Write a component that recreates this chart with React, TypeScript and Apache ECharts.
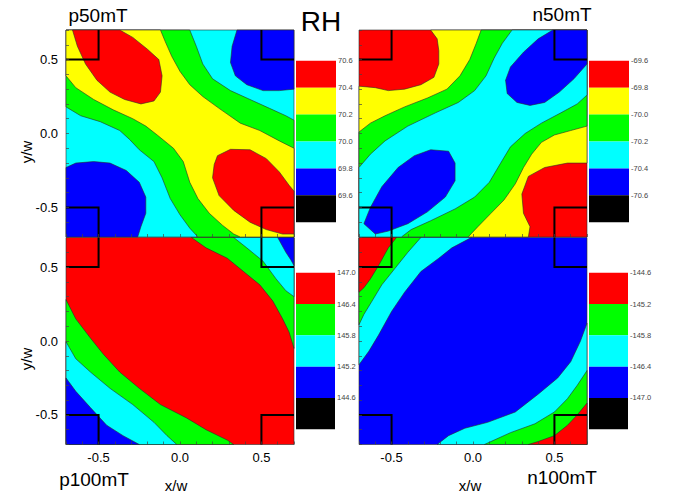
import React, { useEffect, useRef } from 'react';
import * as echarts from 'echarts';

type Pt = [number, number];

const RED = '#ff0000';
const YELLOW = '#ffff00';
const GREEN = '#00ff00';
const CYAN = '#00ffff';
const BLUE = '#0000ff';
const BLACK = '#000000';
const FONT = 'Liberation Sans, Arial, Helvetica, sans-serif';

// full extent of each map (x/w, y/w)
const EXT: Pt[] = [[-0.7, 0.7], [0.7, 0.7], [0.7, -0.7], [-0.7, -0.7]];

// ---- p50mT contour regions (data coords) ----
const p50Green: Pt[] = [[-0.7, 0.7], [0.06, 0.7], [0.10, 0.59], [0.14, 0.47], [0.20, 0.37], [0.31, 0.29], [0.43, 0.23], [0.55, 0.17], [0.65, 0.12], [0.7, 0.09], [0.7, -0.7], [0.11, -0.7], [0.06, -0.64], [0.0, -0.55], [-0.06, -0.44], [-0.11, -0.30], [-0.16, -0.19], [-0.25, -0.11], [-0.31, -0.04], [-0.37, 0.02], [-0.49, 0.08], [-0.61, 0.12], [-0.7, 0.18]];
const p50Yellow: Pt[] = [[-0.7, 0.7], [-0.12, 0.7], [-0.09, 0.62], [-0.05, 0.52], [0.0, 0.42], [0.06, 0.33], [0.14, 0.25], [0.24, 0.17], [0.37, 0.07], [0.49, 0.02], [0.61, -0.05], [0.7, -0.10], [0.7, -0.7], [0.37, -0.7], [0.33, -0.68], [0.26, -0.62], [0.18, -0.54], [0.11, -0.44], [0.06, -0.33], [0.02, -0.19], [-0.04, -0.10], [-0.14, -0.01], [-0.21, 0.05], [-0.29, 0.10], [-0.41, 0.16], [-0.53, 0.23], [-0.64, 0.31], [-0.7, 0.39]];
const p50RedA: Pt[] = [[-0.66, 0.7], [-0.63, 0.59], [-0.58, 0.47], [-0.51, 0.36], [-0.43, 0.28], [-0.34, 0.23], [-0.24, 0.20], [-0.16, 0.22], [-0.12, 0.28], [-0.11, 0.39], [-0.13, 0.50], [-0.20, 0.57], [-0.29, 0.65], [-0.37, 0.7]];
const p50RedB: Pt[] = [[0.7, -0.39], [0.67, -0.35], [0.61, -0.26], [0.53, -0.17], [0.43, -0.11], [0.31, -0.107], [0.23, -0.15], [0.21, -0.21], [0.20, -0.30], [0.24, -0.42], [0.33, -0.52], [0.43, -0.60], [0.53, -0.65], [0.63, -0.68], [0.7, -0.68]];
const p50BlueA: Pt[] = [[0.35, 0.7], [0.32, 0.59], [0.31, 0.48], [0.34, 0.39], [0.41, 0.33], [0.51, 0.29], [0.61, 0.29], [0.7, 0.30], [0.7, 0.7]];
const p50BlueB: Pt[] = [[-0.7, -0.23], [-0.64, -0.20], [-0.53, -0.19], [-0.43, -0.20], [-0.33, -0.25], [-0.25, -0.33], [-0.21, -0.43], [-0.21, -0.54], [-0.24, -0.63], [-0.26, -0.7], [-0.7, -0.7]];

// ---- n50mT ----
const n50Yellow: Pt[] = [[-0.26, 0.7], [0.7, 0.7], [0.7, -0.20], [0.58, -0.20], [0.44, -0.23], [0.34, -0.29], [0.30, -0.41], [0.31, -0.54], [0.35, -0.63], [0.34, -0.7], [-0.7, -0.7], [-0.7, 0.32], [-0.60, 0.31], [-0.52, 0.29], [-0.42, 0.30], [-0.32, 0.33], [-0.24, 0.38], [-0.21, 0.47], [-0.21, 0.56], [-0.22, 0.64]];
const n50Green: Pt[] = [[0.05, 0.7], [0.7, 0.7], [0.7, 0.05], [0.60, 0.02], [0.50, -0.01], [0.42, -0.06], [0.36, -0.14], [0.31, -0.23], [0.26, -0.34], [0.19, -0.45], [0.11, -0.54], [0.03, -0.63], [-0.03, -0.7], [-0.7, -0.7], [-0.7, 0.01], [-0.63, 0.07], [-0.54, 0.12], [-0.42, 0.18], [-0.28, 0.24], [-0.16, 0.30], [-0.08, 0.39], [-0.02, 0.50], [0.02, 0.61]];
const n50Cyan: Pt[] = [[0.24, 0.7], [0.7, 0.7], [0.7, 0.26], [0.64, 0.20], [0.54, 0.14], [0.42, 0.07], [0.32, 0.0], [0.23, -0.09], [0.17, -0.20], [0.10, -0.33], [0.01, -0.43], [-0.11, -0.51], [-0.26, -0.59], [-0.38, -0.65], [-0.44, -0.7], [-0.7, -0.7], [-0.7, -0.23], [-0.63, -0.14], [-0.54, -0.05], [-0.40, 0.05], [-0.23, 0.14], [-0.09, 0.21], [0.01, 0.29], [0.08, 0.39], [0.13, 0.51], [0.18, 0.61]];
const n50BlueA: Pt[] = [[0.49, 0.7], [0.40, 0.64], [0.31, 0.55], [0.23, 0.45], [0.20, 0.36], [0.21, 0.27], [0.27, 0.21], [0.35, 0.19], [0.44, 0.21], [0.53, 0.28], [0.62, 0.37], [0.7, 0.47], [0.7, 0.7]];
const n50BlueB: Pt[] = [[-0.67, -0.61], [-0.63, -0.50], [-0.56, -0.36], [-0.46, -0.23], [-0.36, -0.15], [-0.26, -0.11], [-0.15, -0.12], [-0.11, -0.20], [-0.11, -0.32], [-0.17, -0.43], [-0.28, -0.53], [-0.40, -0.61], [-0.52, -0.66], [-0.60, -0.68]];

// ---- p100mT ----
const p100GreenA: Pt[] = [[0.07, 0.7], [0.7, 0.7], [0.7, -0.05], [0.67, 0.06], [0.63, 0.15], [0.57, 0.27], [0.49, 0.38], [0.39, 0.47], [0.29, 0.56], [0.16, 0.63]];
const p100CyanA: Pt[] = [[0.33, 0.7], [0.7, 0.7], [0.7, 0.30], [0.65, 0.34], [0.59, 0.42], [0.51, 0.54], [0.41, 0.63]];
const p100BlueA: Pt[] = [[0.60, 0.7], [0.7, 0.7], [0.7, 0.51], [0.68, 0.55], [0.65, 0.60]];
const p100GreenB: Pt[] = [[-0.7, 0.28], [-0.64, 0.15], [-0.55, 0.02], [-0.47, -0.09], [-0.37, -0.21], [-0.25, -0.32], [-0.12, -0.43], [0.04, -0.52], [0.16, -0.60], [0.29, -0.67], [0.33, -0.7], [-0.7, -0.7]];
const p100CyanB: Pt[] = [[-0.7, -0.005], [-0.64, -0.12], [-0.55, -0.21], [-0.43, -0.32], [-0.29, -0.43], [-0.16, -0.55], [-0.08, -0.64], [-0.02, -0.7], [-0.7, -0.7]];
const p100BlueB: Pt[] = [[-0.7, -0.25], [-0.64, -0.34], [-0.55, -0.45], [-0.45, -0.57], [-0.35, -0.64], [-0.25, -0.7], [-0.7, -0.7]];

// ---- n100mT ----
const n100CyanA: Pt[] = [[-0.7, 0.7], [-0.01, 0.7], [-0.13, 0.63], [-0.21, 0.56], [-0.32, 0.47], [-0.42, 0.33], [-0.50, 0.20], [-0.58, 0.04], [-0.64, -0.07], [-0.7, -0.16]];
const n100GreenA: Pt[] = [[-0.7, 0.7], [-0.32, 0.7], [-0.40, 0.60], [-0.48, 0.49], [-0.56, 0.38], [-0.62, 0.27], [-0.67, 0.18], [-0.7, 0.11]];
const n100RedA: Pt[] = [[-0.7, 0.7], [-0.47, 0.7], [-0.52, 0.63], [-0.58, 0.51], [-0.63, 0.42], [-0.67, 0.36], [-0.7, 0.33]];
const n100CyanB: Pt[] = [[0.7, -0.7], [0.7, 0.12], [0.66, 0.0], [0.60, -0.14], [0.52, -0.25], [0.40, -0.36], [0.26, -0.48], [0.09, -0.55], [-0.05, -0.59], [-0.15, -0.64], [-0.22, -0.7]];
const n100GreenB: Pt[] = [[0.7, -0.7], [0.7, -0.20], [0.64, -0.30], [0.58, -0.39], [0.50, -0.48], [0.38, -0.56], [0.23, -0.62], [0.13, -0.67], [0.07, -0.7]];
const n100RedB: Pt[] = [[0.7, -0.7], [0.7, -0.42], [0.64, -0.50], [0.58, -0.57], [0.50, -0.64], [0.40, -0.68], [0.34, -0.7]];

// corner squares (electrodes)
const cornerMarks: Pt[][] = [
  [[-0.7, 0.5], [-0.5, 0.5], [-0.5, 0.7]],
  [[0.5, 0.7], [0.5, 0.5], [0.7, 0.5]],
  [[-0.7, -0.5], [-0.5, -0.5], [-0.5, -0.7]],
  [[0.5, -0.7], [0.5, -0.5], [0.7, -0.5]],
];

// colour bar levels (label at top edge of each box)
const levelsP50 = [70.6, 70.4, 70.2, 70.0, 69.8, 69.6];
const levelsN50 = [-69.6, -69.8, -70.0, -70.2, -70.4, -70.6];
const levelsP100 = [147.0, 146.4, 145.8, 145.2, 144.6];
const levelsN100 = [-144.6, -145.2, -145.8, -146.4, -147.0];
const colors6 = [RED, YELLOW, GREEN, CYAN, BLUE, BLACK];
const colors5 = [RED, GREEN, CYAN, BLUE, BLACK];

const panels = [
  {
    grid: { left: 66, top: 30, width: 228, height: 207 }, showX: false, showY: true,
    layers: [[EXT, CYAN], [p50Green, GREEN], [p50Yellow, YELLOW], [p50RedA, RED], [p50RedB, RED], [p50BlueA, BLUE], [p50BlueB, BLUE]] as [Pt[], string][],
  },
  {
    grid: { left: 359, top: 30, width: 228, height: 207 }, showX: false, showY: false,
    layers: [[EXT, RED], [n50Yellow, YELLOW], [n50Green, GREEN], [n50Cyan, CYAN], [n50BlueA, BLUE], [n50BlueB, BLUE]] as [Pt[], string][],
  },
  {
    grid: { left: 66, top: 237.5, width: 228, height: 207 }, showX: true, showY: true,
    layers: [[EXT, RED], [p100GreenA, GREEN], [p100CyanA, CYAN], [p100BlueA, BLUE], [p100GreenB, GREEN], [p100CyanB, CYAN], [p100BlueB, BLUE]] as [Pt[], string][],
  },
  {
    grid: { left: 359, top: 237.5, width: 228, height: 207 }, showX: true, showY: false,
    layers: [[EXT, BLUE], [n100CyanA, CYAN], [n100GreenA, GREEN], [n100RedA, RED], [n100CyanB, CYAN], [n100GreenB, GREEN], [n100RedB, RED]] as [Pt[], string][],
  },
];

const bars = [
  { grid: { left: 296, top: 60.7, width: 40, height: 161.6 }, levels: levelsP50, step: 0.2, colors: colors6 },
  { grid: { left: 589, top: 60.7, width: 40, height: 161.6 }, levels: levelsN50, step: 0.2, colors: colors6 },
  { grid: { left: 296, top: 272.7, width: 39, height: 156.6 }, levels: levelsP100, step: 0.6, colors: colors5 },
  { grid: { left: 589, top: 272.7, width: 39, height: 156.6 }, levels: levelsN100, step: 0.6, colors: colors5 },
];

const tickFmt = (v: number) => {
  const r = Math.round(v * 10) / 10;
  if (r === -0.5) return '-0.5';
  if (r === 0) return '0.0';
  if (r === 0.5) return '0.5';
  return '';
};

function buildOption() {
  const grid: any[] = [];
  const xAxis: any[] = [];
  const yAxis: any[] = [];
  const series: any[] = [];
  const tickStyle = { show: true, inside: true, length: 3, lineStyle: { color: '#444', width: 0.7 } };

  panels.forEach((p, i) => {
    grid.push(p.grid);
    xAxis.push({
      gridIndex: i, type: 'value', min: -0.7, max: 0.7, interval: 0.1, z: 10, position: 'bottom',
      axisLine: { show: false, onZero: false }, splitLine: { show: false }, axisTick: tickStyle,
      axisLabel: { show: p.showX, formatter: tickFmt, fontSize: 13, color: '#000', margin: 6, fontFamily: FONT },
    });
    yAxis.push({
      gridIndex: i, type: 'value', min: -0.7, max: 0.7, interval: 0.1, z: 10, position: 'left',
      axisLine: { show: false, onZero: false }, splitLine: { show: false }, axisTick: tickStyle,
      axisLabel: { show: p.showY, formatter: tickFmt, fontSize: 13, color: '#000', margin: 8, fontFamily: FONT },
    });
    const layers = p.layers;
    series.push({
      type: 'custom', xAxisIndex: i, yAxisIndex: i, z: 2, silent: true,
      data: layers.map((l, k) => [l[0][0][0], l[0][0][1], k]),
      renderItem: (params: any, api: any) => {
        const [pts, color] = layers[params.dataIndex];
        return {
          type: 'polygon',
          shape: { points: pts.map((q) => api.coord(q)) },
          style: { fill: color, stroke: '#2b2b2b', lineWidth: 0.6 },
        };
      },
    });
    series.push({
      type: 'custom', xAxisIndex: i, yAxisIndex: i, z: 5, silent: true,
      data: cornerMarks.map((c, k) => [c[1][0], c[1][1], k]),
      renderItem: (params: any, api: any) => {
        const pts = cornerMarks[params.dataIndex];
        return {
          type: 'polyline',
          shape: { points: pts.map((q) => api.coord(q)) },
          style: { stroke: '#000', lineWidth: 2, fill: null },
        };
      },
    });
  });

  bars.forEach((b, j) => {
    const gi = panels.length + j;
    grid.push(b.grid);
    const lo = b.levels[b.levels.length - 1] - b.step;
    xAxis.push({ gridIndex: gi, type: 'value', min: 0, max: 1, show: false });
    yAxis.push({
      gridIndex: gi, type: 'value', min: lo, max: b.levels[0], interval: b.step, position: 'right',
      axisLine: { show: false }, axisTick: { show: false }, splitLine: { show: false },
      axisLabel: { showMinLabel: false, formatter: (v: number) => v.toFixed(1), fontSize: 7.5, color: '#444', margin: 2, fontFamily: FONT },
    });
    series.push({
      type: 'custom', xAxisIndex: gi, yAxisIndex: gi, silent: true,
      data: b.levels.map((lv, k) => [0, lv, k]),
      renderItem: (params: any, api: any) => {
        const k = params.dataIndex;
        const a = api.coord([0, b.levels[k]]);
        const c = api.coord([1, b.levels[k] - b.step]);
        return {
          type: 'rect',
          shape: { x: a[0], y: a[1], width: c[0] - a[0], height: c[1] - a[1] },
          style: { fill: b.colors[k] },
        };
      },
    });
  });

  const txt = (text: string, x: number, y: number, size: number, rot = 0) => ({
    type: 'text', x, y, rotation: rot, z: 100,
    style: { text, font: `${size}px ${FONT}`, fill: '#000', textAlign: 'center', textVerticalAlign: 'middle' },
  });

  return {
    animation: false,
    backgroundColor: '#fff',
    grid, xAxis, yAxis, series,
    graphic: [
      txt('p50mT', 98, 15, 19),
      txt('RH', 321, 21, 28),
      txt('n50mT', 562, 14, 19),
      txt('p100mT', 94, 479, 19),
      txt('n100mT', 562, 477, 19),
      txt('x/w', 176, 485, 15),
      txt('x/w', 470, 485, 15),
      txt('y/w', 26, 152, 15, Math.PI / 2),
      txt('y/w', 26, 359, 15, Math.PI / 2),
    ],
  };
}

export default function App() {
  const ref = useRef<HTMLDivElement>(null);
  useEffect(() => {
    if (!ref.current) return;
    const chart = echarts.init(ref.current, undefined, { renderer: 'svg' });
    chart.setOption(buildOption() as any);
    return () => chart.dispose();
  }, []);
  return <div ref={ref} style={{ position: 'fixed', left: 0, top: 0, width: 677, height: 497 }} />;
}
